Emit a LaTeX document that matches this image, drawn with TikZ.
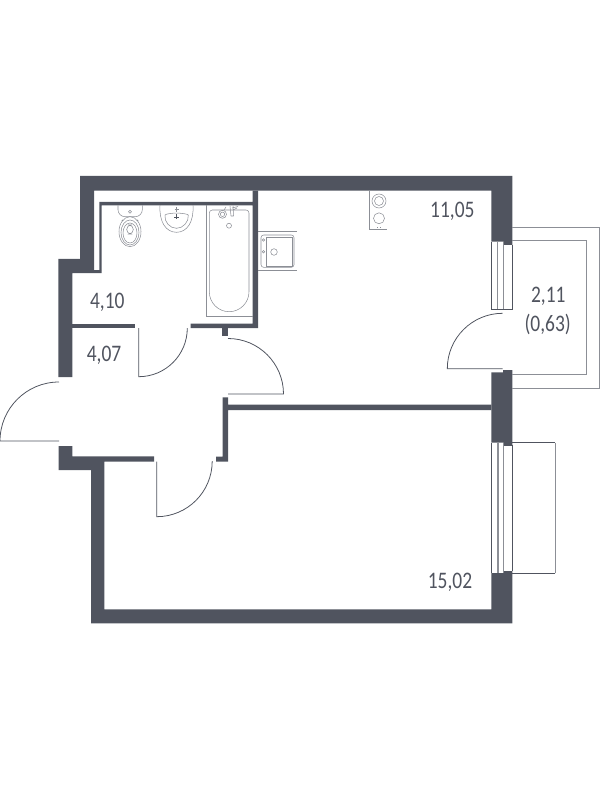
\documentclass[tikz,border=0pt]{standalone}
\usepackage{fontspec}
\setmainfont{Carlito}
\newfontfamily\areafont[FakeStretch=0.82]{Carlito}
\definecolor{wallcol}{HTML}{50545F}
\definecolor{fixcol}{HTML}{8C8F96}
\tikzstyle{wall} = [fill=wallcol, draw=none]
\tikzstyle{door} = [draw=wallcol, line width=0.45pt]
\tikzstyle{rail} = [draw=fixcol, line width=0.55pt]
\tikzstyle{fix} = [draw=fixcol, line width=0.3pt]
\tikzstyle{area} = [text=wallcol, font=\areafont\fontsize{13.5}{15}\selectfont, inner sep=0pt]

\begin{document}
\begin{tikzpicture}[x=0.02cm, y=-0.02cm]
\useasboundingbox (0,0) rectangle (600,800);

%walls
\path [wall] (80,176) -- (512.3,176) -- (512.3,245) -- (503.7,245) -- (503.7,241.7) -- (491.3,241.7) -- (491.3,190.7) -- (94,190.7) -- (94,270) -- (101.7,270) -- (101.7,273) -- (72.3,273) -- (72.3,377) -- (58.3,377) -- (58.3,259) -- (80,259) -- cycle;
\path [wall] (99.3,270) -- (99.3,202) -- (252.7,202) -- (252.7,190.7) -- (258,190.7) -- (258,328) -- (190.7,328) -- (190.7,323.7) -- (252.7,323.7) -- (252.7,205.3) -- (101.7,205.3) -- (101.7,270) -- cycle;
\path [wall] (72.3,323.7) rectangle (135.3,328);
\path [wall] (222.3,328) rectangle (228.3,335.7);
\path [wall] (58.7,446) -- (72.3,446) -- (72.3,456.3) -- (154,456.3) -- (154,461.7) -- (104.3,461.7) -- (104.3,609.3) -- (491.3,609.3) -- (491.3,573) -- (503.7,573) -- (503.7,571) -- (512.3,571) -- (512.3,623.3) -- (91,623.3) -- (91,470) -- (58.7,470) -- cycle;
\path [wall] (491.3,372.3) -- (503,372.3) -- (503,370) -- (512.3,370) -- (512.3,445) -- (503.7,445) -- (503.7,442.7) -- (491.3,442.7) -- cycle;
\path [wall] (222.7,397.3) -- (228,397.3) -- (228,404.7) -- (491.3,404.7) -- (491.3,410) -- (228,410) -- (228,461.7) -- (216,461.7) -- (216,456.7) -- (222.7,456.7) -- cycle;

%doors
\draw [door] (59,382) arc [start angle=270, end angle=180, radius=59] -- (59,441);
\draw [door] (138.7,328) -- (138.7,376.7) arc [start angle=90, end angle=0, radius=48.6];
\draw [door] (228,394) -- (283.5,394) arc [start angle=0, end angle=-90, radius=55.5];
\draw [door] (156.7,461.7) -- (156.7,516.7) arc [start angle=90, end angle=0, radius=55.5];
\draw [door] (502.7,368.7) -- (447.3,368.7) arc [start angle=180, end angle=270, radius=55.4];

%windows
\draw [door] (491.7,241.7) -- (491.7,309.3) -- (512,309.3) -- (512,245);
\draw [rail] (497.7,241.7) -- (497.7,309.3);
\draw [rail] (503.7,241.7) -- (503.7,309.3);
\draw [door] (491.7,442.7) -- (491.7,573);
\draw [door] (503.7,445) -- (512,445);
\draw [door] (503.7,571) -- (512,571);
\draw [door] (512,445) -- (512,571);
\draw [rail, line width=1pt] (498.3,442.7) -- (498.3,573);
\draw [rail, line width=0.8pt] (503.7,442.7) -- (503.7,573);

%balcony
\draw [rail] (512,227.3) -- (599.3,227.3) -- (599.3,388.3) -- (512,388.3);
\draw [rail] (512,240.7) -- (586.7,240.7) -- (586.7,374.3) -- (512,374.3);
\draw [door] (512,442.7) -- (555.3,442.7);
\draw [rail] (555.3,442.7) -- (555.3,573);
\draw [door] (555.3,573) -- (512,573);

%stove
\draw [fix] (369.3,190.7) -- (369.3,229.3) -- (387.3,229.3);
\draw [fix] (379,201) circle (7);
\draw [fix] (379,201) circle (4.5);
\draw [fix] (379,218.3) circle (5.5);
\draw [fix] (377,227) -- (378,227) (380,227) -- (381,227);

%kitchen sink
\draw [fix] (258,231.7) -- (296.7,231.7) (296.7,270) -- (258,270);
\draw [fix, rounded corners=1.5] (261,235) rectangle (294,267.3);
\draw [rail] (266,237.3) rectangle (292.3,266.7);
\draw [fix] (274,252) circle (3.3);
\draw [fix] (263.5,240) circle (1.2);
\draw [fix] (263.5,251.7) circle (1.2);

%bath
\draw [fix] (206.7,205.3) -- (206.7,316.7) -- (252.7,316.7);
\draw [fix] (209.3,213) arc [start angle=180, end angle=270, radius=3] -- (246,210) arc [start angle=270, end angle=360, radius=3] -- (249,291.7) arc [start angle=0, end angle=180, x radius=19.85, y radius=20] -- cycle;
\draw [fix] (229,225.7) circle (2.5);
\draw [fix] (222.5,214.3) circle (4);
\draw [fix] (222.5,214.3) circle (2.2);
\draw [fix] (226,207) -- (224,210) (230,206) -- (231,216) (233,206) -- (233.5,216) (231,216) -- (233.5,216) (232,208) -- (238,206.5) (233,210) -- (237,208);

%toilet
\draw [fix, rounded corners=4] (118,205.3) -- (118,216.7) -- (142.3,216.7) -- (142.3,205.3);
\draw [fix] (130,211.7) circle (1.5);
\draw [fix] (130,231.7) ellipse (11 and 15);
\draw [fix] (130,232.5) ellipse (9 and 12.5);
\draw [fix] (130,233) ellipse (7 and 10);
\draw [fix, rounded corners=2.5] (126.7,225) rectangle (133.3,234);
\draw [fix] (122.5,220.5) circle (0.5) (137.5,220.5) circle (0.5);

%washbasin
\draw [fix] (160,205.3) .. controls (159,222) and (166,232.3) .. (176.5,232.3) .. controls (187,232.3) and (194,222) .. (193,205.3);
\draw [fix] (165,215) .. controls (168,212.5) and (185,212.5) .. (188.3,215) .. controls (189,222) and (183,228.3) .. (176.5,228.3) .. controls (170,228.3) and (164,222) .. (165,215);
\draw [fix] (174.5,209.3) -- (178.5,209.3) (176.5,207) -- (176.5,212);
\draw [door] (174,217) -- (179,217) (176.5,214.5) -- (176.5,219.5);

%areas
\node (hall) [area] at (107.3,302.7) {4,10};
\node (lobby) [area] at (104,355) {4,07};
\node (kitchen) [area] at (452.3,211.7) {11,05};
\node (balcony) [area] at (548.3,296) {2,11};
\node (balconyk) [area] at (547.7,324.3) {(0,63)};
\node (room) [area] at (450,582.7) {15,02};

\end{tikzpicture}
\end{document}
